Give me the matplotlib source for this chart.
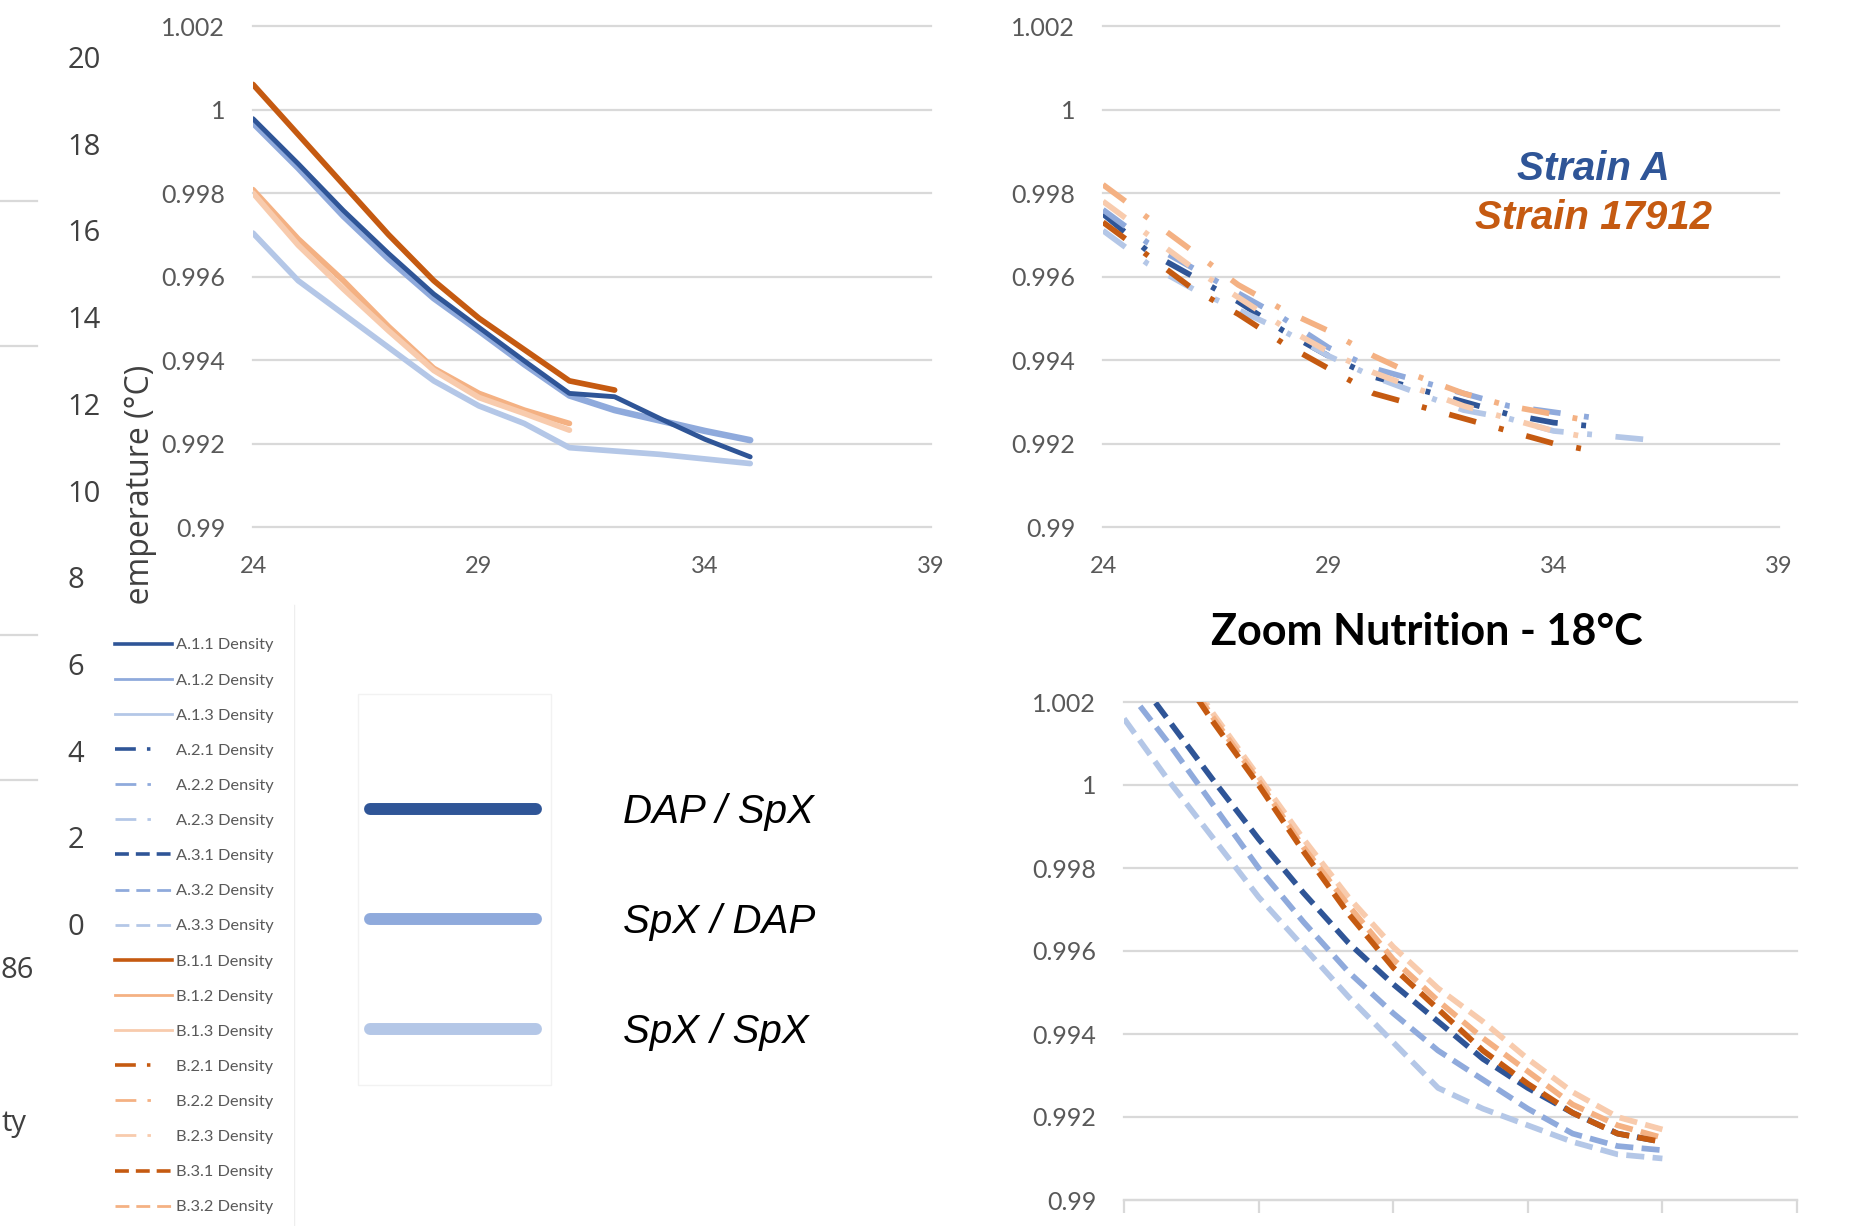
import matplotlib
matplotlib.use("Agg")
import matplotlib.pyplot as plt
from matplotlib.lines import Line2D
from matplotlib.patches import Rectangle
import numpy as np

plt.rcParams['font.family'] = ['Lato', 'DejaVu Sans']
plt.rcParams['lines.scale_dashes'] = False

W, H = 1860, 1226


def box(x0, y0, x1, y1):
    # pixel box (origin top-left) -> figure rect
    return [x0 / W, 1 - y1 / H, (x1 - x0) / W, (y1 - y0) / H]


# ---- data ----
t24_31 = list(range(24, 32))
t24_32 = list(range(24, 33))
t24_35 = list(range(24, 36))
t24_36 = list(range(24, 37))

# top-left chart (series .1)
A11 = [0.99978, 0.9987, 0.99758, 0.99655, 0.99558, 0.99478, 0.99398, 0.9932, 0.99312, 0.9926, 0.9921, 0.99168]
A12 = [0.99968, 0.9986, 0.99745, 0.99642, 0.99548, 0.9947, 0.9939, 0.99315, 0.9928, 0.99255, 0.9923, 0.99208]
A13 = [0.99704, 0.9959, 0.9951, 0.9943, 0.9935, 0.9929, 0.99248, 0.9919, 0.99182, 0.99174, 0.99163, 0.99152]
B11 = [1.0006, 0.9994, 0.9982, 0.9970, 0.9959, 0.9950, 0.99425, 0.9935, 0.99328]
B12 = [0.99808, 0.9969, 0.9959, 0.9948, 0.9938, 0.9932, 0.9928, 0.99248]
B13 = [0.9980, 0.99675, 0.9957, 0.9947, 0.99375, 0.9931, 0.99272, 0.99232]

# top-right chart (series .2)
A21 = [0.9975, 0.9966, 0.9960, 0.9954, 0.9947, 0.9941, 0.9936, 0.9933, 0.9930, 0.9927, 0.9925, 0.9924]
A22 = [0.9976, 0.9968, 0.9962, 0.9956, 0.9950, 0.9943, 0.9938, 0.9935, 0.9932, 0.9929, 0.99275, 0.9926]
A23 = [0.9971, 0.9963, 0.9957, 0.9952, 0.9947, 0.9941, 0.9936, 0.9932, 0.9928, 0.9926, 0.9923, 0.9922, 0.9921]
B21 = [0.9973, 0.9965, 0.9957, 0.9951, 0.9944, 0.9938, 0.9932, 0.9929, 0.9926, 0.9923, 0.9920, 0.9918]
B22 = [0.9982, 0.9974, 0.9966, 0.9958, 0.9952, 0.9947, 0.9941, 0.9936, 0.9932, 0.9929, 0.9927, 0.9925]
B23 = [0.9978, 0.9970, 0.9962, 0.9955, 0.9948, 0.9942, 0.9937, 0.9933, 0.9929, 0.9926, 0.9923, 0.9921]

# bottom-right chart (series .3)
A31 = [1.0030, 1.00155, 1.0001, 0.9987, 0.9974, 0.9962, 0.9952, 0.9943, 0.9934, 0.9927, 0.9921, 0.9916, 0.9914]
A32 = [1.0024, 1.0010, 0.9995, 0.9980, 0.9967, 0.9955, 0.9945, 0.9936, 0.9929, 0.9922, 0.9916, 0.9913, 0.9912]
A33 = [1.0016, 1.0001, 0.9987, 0.9973, 0.9961, 0.9949, 0.9938, 0.9927, 0.9922, 0.9918, 0.9914, 0.9911, 0.9910]
B31 = [1.0047, 1.0031, 1.0015, 1.0000, 0.9984, 0.9969, 0.9956, 0.9946, 0.9936, 0.9928, 0.9921, 0.9916, 0.9914]
B32 = [1.0048, 1.0032, 1.0016, 1.0001, 0.9985, 0.9971, 0.9958, 0.9948, 0.9939, 0.9931, 0.9923, 0.9918, 0.9915]
B33 = [1.0049, 1.0033, 1.0017, 1.0002, 0.9987, 0.9973, 0.9961, 0.9951, 0.9943, 0.9934, 0.9926, 0.9920, 0.9917]

y_ticks = [0.99, 0.992, 0.994, 0.996, 0.998, 1.0, 1.002]
y_labels = ['0.99', '0.992', '0.994', '0.996', '0.998', '1', '1.002']
bg_ticks = list(range(0, 21, 2))

legend_names = ['A.1.1 Density', 'A.1.2 Density', 'A.1.3 Density',
                'A.2.1 Density', 'A.2.2 Density', 'A.2.3 Density',
                'A.3.1 Density', 'A.3.2 Density', 'A.3.3 Density',
                'B.1.1 Density', 'B.1.2 Density', 'B.1.3 Density',
                'B.2.1 Density', 'B.2.2 Density', 'B.2.3 Density',
                'B.3.1 Density', 'B.3.2 Density']
combo_names = ['DAP / SpX', 'SpX / DAP', 'SpX / SpX']

DB, MB, LB = '#2F5597', '#8FAADC', '#B4C7E7'
DO, MO, LO = '#C55A11', '#F4B183', '#F8CBAD'
GRID = '#d9d9d9'
TICK = '#595959'

DASHDOT = (0, (20, 17, 3.5, 17))
DASHED = (0, (13, 6))
LW = 4.1

fig = plt.figure(figsize=(W / 100, H / 100), dpi=100)


def style(ax, xticks, show_x=True):
    ax.set_ylim(0.99, 1.002)
    ax.set_xlim(24, 39)
    ax.set_yticks(y_ticks)
    ax.set_yticklabels(y_labels)
    ax.set_xticks(xticks)
    for s in ax.spines.values():
        s.set_visible(False)
    ax.grid(axis='y', color=GRID, lw=1.6)
    for g in ax.get_ygridlines():
        g.set_clip_on(False)
    ax.set_axisbelow(True)
    ax.tick_params(axis='y', length=0, labelsize=18, labelcolor=TICK, pad=20)
    ax.tick_params(axis='x', length=0, labelsize=17, labelcolor=TICK, pad=21,
                   labelbottom=show_x)
    ax.patch.set_alpha(0)


# ---- background chart fragment (left edge) ----
bg = fig.add_axes(box(0, 57, 37, 924))
bg.set_ylim(0, 20)
bg.set_yticks(bg_ticks)
bg.set_yticks(np.linspace(0, 20, 7), minor=True)
bg.yaxis.tick_right()
bg.tick_params(axis='y', which='both', length=0, labelsize=21, labelcolor='#404040', pad=22)
bg.set_xticks([])
for lbl in bg.get_yticklabels():
    lbl.set_family('Open Sans')
bg.grid(axis='y', which='minor', color=GRID, lw=1.6)
for t in bg.yaxis.get_minor_ticks():
    t.gridline.set_clip_on(False)
for s in bg.spines.values():
    s.set_visible(False)
bg.patch.set_alpha(0)
fig.text(1 / W, 1 - 970 / H, '86', ha='left', va='center', fontsize=21,
         color='#404040', family='Open Sans', zorder=2)
fig.text(1 / W, 1 - 1123 / H, 'ty', ha='left', va='center', fontsize=21,
         color='#404040', family='Open Sans', zorder=2)
fig.text(140 / W, 1 - 622 / H, 'Temperature (°C)', rotation=90, ha='center', va='bottom',
         fontsize=23, color='#404040', family='Open Sans', zorder=2)

# ---- top-left: solid series ----
ax1 = fig.add_axes(box(253, 26, 931, 527))
style(ax1, [24, 29, 34, 39])
ax1.plot(t24_35, A12, color=MB, lw=LW + 0.6, solid_capstyle='round')
ax1.plot(t24_35, A11, color=DB, lw=LW - 0.6, solid_capstyle='round')
ax1.plot(t24_35, A13, color=LB, lw=LW, solid_capstyle='round')
ax1.plot(t24_32, B11, color=DO, lw=LW, solid_capstyle='round')
ax1.plot(t24_31, B12, color=MO, lw=LW, solid_capstyle='round')
ax1.plot(t24_31, B13, color=LO, lw=LW, solid_capstyle='round')

# ---- top-right: dash-dot series ----
ax2 = fig.add_axes(box(1103, 26, 1779, 527))
style(ax2, [24, 29, 34, 39])
ax2.plot(t24_35, A21, color=DB, lw=LW, ls=DASHDOT)
ax2.plot(t24_35, A22, color=MB, lw=LW, ls=DASHDOT)
ax2.plot(t24_36, A23, color=LB, lw=LW, ls=DASHDOT)
ax2.plot(t24_35, B21, color=DO, lw=LW, ls=DASHDOT)
ax2.plot(t24_35, B22, color=MO, lw=LW, ls=DASHDOT)
ax2.plot(t24_35, B23, color=LO, lw=LW, ls=DASHDOT)
fig.text(1593 / W, 1 - 169 / H, 'Strain A', ha='center', va='center', fontsize=29,
         color=DB, family='Liberation Sans', weight='bold', style='italic')
fig.text(1593 / W, 1 - 218 / H, 'Strain 17912', ha='center', va='center', fontsize=29,
         color=DO, family='Liberation Sans', weight='bold', style='italic')

# ---- bottom-right: dashed series ----
ax3 = fig.add_axes(box(1124, 702, 1797, 1200))
style(ax3, [24, 27, 30, 33, 36, 39], show_x=False)
ax3.spines['bottom'].set_visible(True)
ax3.spines['bottom'].set_color(GRID)
ax3.spines['bottom'].set_linewidth(1.6)
ax3.tick_params(axis='x', length=9, width=1.6, color=GRID, direction='out')
ax3.plot(t24_36, A31, color=DB, lw=LW, ls=DASHED)
ax3.plot(t24_36, A32, color=MB, lw=LW, ls=DASHED)
ax3.plot(t24_36, A33, color=LB, lw=LW, ls=DASHED)
ax3.plot(t24_36, B33, color=LO, lw=LW, ls=DASHED)
ax3.plot(t24_36, B32, color=MO, lw=LW, ls=DASHED)
ax3.plot(t24_36, B31, color=DO, lw=LW, ls=DASHED)
fig.text(1427 / W, 1 - 632 / H, 'Zoom Nutrition - 18°C', ha='center', va='center',
         fontsize=31, weight='bold', color='black')

# ---- legend panel (covers the left fragment) ----
fig.patches.append(Rectangle((108 / W, 0), (294 - 108) / W, 1 - 605 / H,
                             transform=fig.transFigure, facecolor='white',
                             edgecolor='none', zorder=3))
fig.add_artist(Line2D([294 / W, 294 / W], [0, 1 - 605 / H], transform=fig.transFigure,
                      color='#eeeeee', lw=1.0, zorder=3))
handles = []
ls_map = {1: '-', 2: (0, (15, 8, 2.5, 16)), 3: (0, (10, 5))}
for name in legend_names:
    g = name[0]
    k = int(name[2])
    j = int(name[4])
    cols = (DB, MB, LB) if g == 'A' else (DO, MO, LO)
    handles.append(Line2D([], [], color=cols[j - 1], ls=ls_map[k],
                          lw=2.6 if j == 1 else 2.0))
leg1 = fig.legend(handles, legend_names, loc='upper left',
                  bbox_to_anchor=(115 / W, 1 - 638 / H), frameon=False,
                  borderpad=0, borderaxespad=0, fontsize=11.8,
                  handlelength=3.48, handletextpad=0.24, labelspacing=1.26)
for t in leg1.get_texts():
    t.set_color(TICK)

# ---- second legend (combinations) ----
fig.patches.append(Rectangle((358 / W, 1 - 1085 / H), (551 - 358) / W, (1085 - 694) / H,
                             transform=fig.transFigure, facecolor='white',
                             edgecolor='#f2f2f2', lw=1.0, zorder=3))
combo_handles = [Line2D([], [], color=c, lw=8.6, solid_capstyle='round') for c in (DB, MB, LB)]
leg2 = fig.legend(combo_handles, combo_names, loc='upper left',
                  bbox_to_anchor=(370 / W, 1 - 793 / H), frameon=False,
                  borderpad=0, borderaxespad=0,
                  prop={'family': 'Liberation Sans', 'style': 'italic', 'size': 29},
                  handlelength=4.12, handletextpad=2.16, labelspacing=1.79)

fig.savefig('out.png', dpi=100)
